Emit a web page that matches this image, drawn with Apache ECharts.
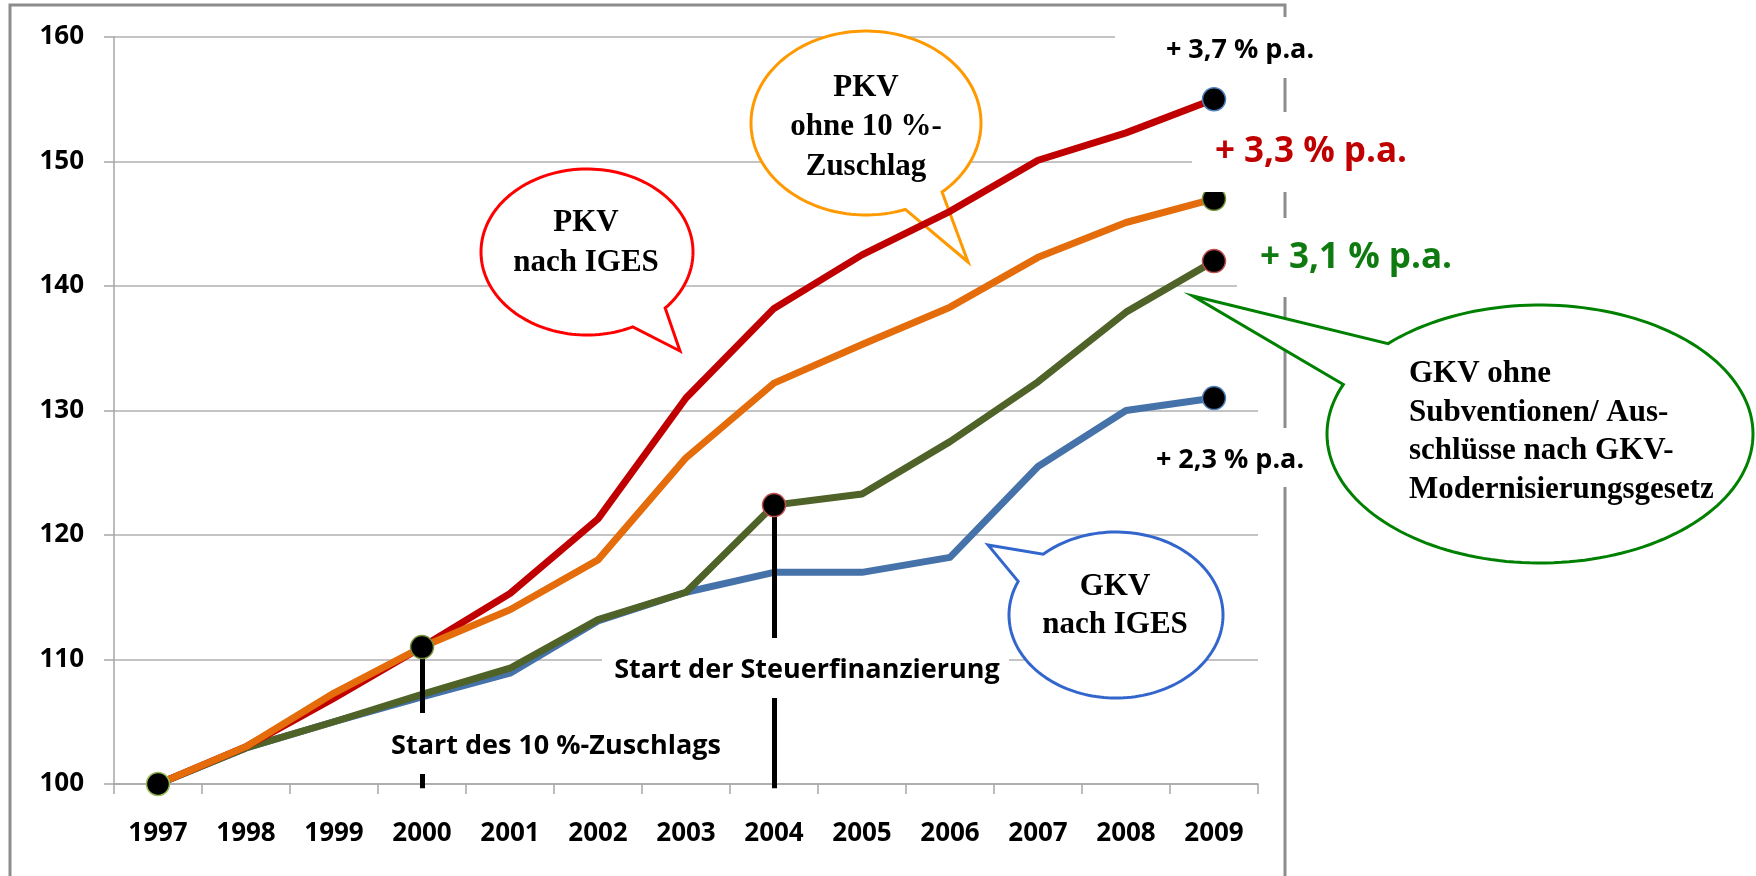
<!DOCTYPE html>
<html>
<head>
<meta charset="utf-8">
<script src="https://cdn.jsdelivr.net/npm/echarts@6/dist/echarts.min.js"></script>
<style>
  html, body { margin: 0; padding: 0; background: #fff; }
  #chart { width: 1756px; height: 876px; }
</style>
</head>
<body>
<div id="chart"></div>
<script>
// Jahre (x-Achse)
var years = ['1997', '1998', '1999', '2000', '2001', '2002', '2003', '2004', '2005', '2006', '2007', '2008', '2009'];

// Indexwerte 1997 = 100
var pkvIges = [100, 103, 106.9, 111, 115.3, 121.3, 131, 138.2, 142.5, 146, 150.1, 152.3, 155];
var pkvOhneZuschlag = [100, 103, 107.3, 111, 114, 118, 126.2, 132.2, 135.3, 138.3, 142.3, 145.1, 147];
var gkvOhneSubv = [100, 102.9, 105, 107.2, 109.3, 113.2, 115.4, 122.4, 123.3, 127.5, 132.3, 137.9, 142];
var gkvIges = [100, 102.9, 105, 107, 108.9, 113.1, 115.4, 117, 117, 118.2, 125.5, 130, 131];

var yMin = 100, yMax = 160, yStep = 10;

var sans = '"Open Sans", "Noto Sans", sans-serif';
var serif = '"Liberation Serif", "DejaVu Serif", serif';

var chart = echarts.init(document.getElementById('chart'));

/*
 * Sprechblase: Ellipse + Spitze als ein Polygon
 * a1/a2 = Winkel (Grad) der Ansatzpunkte auf der Ellipse
 */
function bubble(cx, cy, rx, ry, a1, a2, tip, color) {
	var pts = [tip];
	var steps = 160;
	for (var i = 0; i <= steps; i++) {
		var a = (a2 + (a1 + 360 - a2) * i / steps) * Math.PI / 180;
		pts.push([cx + rx * Math.cos(a), cy + ry * Math.sin(a)]);
	}
	return {
		type: 'polygon',
		z: 1,
		shape: { points: pts },
		style: { fill: '#fff', stroke: color, lineWidth: 3, lineJoin: 'miter' }
	};
}

function label(x, y, text, size, family, color, align, lineHeight) {
	return {
		type: 'text',
		z: 11,
		x: x,
		y: y,
		style: {
			text: text,
			fill: color,
			fontSize: size,
			fontFamily: family,
			fontWeight: 'bold',
			lineHeight: lineHeight || size,
			align: align || 'center',
			textAlign: align || 'center',
			verticalAlign: 'middle',
			textVerticalAlign: 'middle'
		}
	};
}

function whiteBox(x1, y1, x2, y2) {
	return {
		type: 'rect',
		z: 10,
		shape: { x: x1, y: y1, width: x2 - x1, height: y2 - y1 },
		style: { fill: '#fff' }
	};
}

// markierte Punkte (schwarze Kreise)
var dots = [
	{ value: [0, pkvOhneZuschlag[0]], itemStyle: { borderColor: '#9bbb59' } },
	{ value: [3, pkvOhneZuschlag[3]], itemStyle: { borderColor: '#77933c' } },
	{ value: [7, gkvOhneSubv[7]], itemStyle: { borderColor: '#c0504d' } },
	{ value: [12, pkvIges[12]], itemStyle: { borderColor: '#4f81bd' } },
	{ value: [12, pkvOhneZuschlag[12]], itemStyle: { borderColor: '#77933c' } },
	{ value: [12, gkvOhneSubv[12]], itemStyle: { borderColor: '#c0504d' } },
	{ value: [12, gkvIges[12]], itemStyle: { borderColor: '#4f81bd' } }
];

// senkrechte Markierungen (Start Zuschlag 2000, Start Steuerfinanzierung 2004)
var markers = [
	{ coords: [[3, pkvOhneZuschlag[3]], [3, yMin - 0.35]] },
	{ coords: [[7, gkvOhneSubv[7]], [7, yMin - 0.35]] }
];

function lineSeries(name, data, color) {
	return {
		name: name,
		type: 'line',
		data: data,
		symbol: 'none',
		z: 2,
		lineStyle: { color: color, width: 7, join: 'round' }
	};
}

var axisColor = '#a6a6a6';

var option = {
	backgroundColor: '#fff',
	animation: false,
	grid: { left: 114, right: 498, top: 37, bottom: 92 },
	xAxis: {
		type: 'category',
		data: years,
		boundaryGap: true,
		axisLine: { show: true, lineStyle: { color: axisColor, width: 1.5 } },
		axisTick: { show: true, length: 10, alignWithLabel: false, lineStyle: { color: axisColor, width: 1.5 } },
		axisLabel: { interval: 0, margin: 37, color: '#000', fontSize: 26, fontWeight: 'bold', fontFamily: sans },
		splitLine: { show: false }
	},
	yAxis: {
		type: 'value',
		min: yMin,
		max: yMax,
		interval: yStep,
		axisLine: { show: true, lineStyle: { color: axisColor, width: 1.5 } },
		axisTick: { show: true, length: 10, lineStyle: { color: axisColor, width: 1.5 } },
		axisLabel: { margin: 30, color: '#000', fontSize: 26, fontWeight: 'bold', fontFamily: sans },
		splitLine: { show: true, lineStyle: { color: '#b0b0b0', width: 1.5 } }
	},
	series: [
		lineSeries('GKV nach IGES', gkvIges, '#4672aa'),
		lineSeries('GKV ohne Subventionen', gkvOhneSubv, '#4f6228'),
		lineSeries('PKV nach IGES', pkvIges, '#c00000'),
		lineSeries('PKV ohne 10 %-Zuschlag', pkvOhneZuschlag, '#e46c0a'),
		{
			type: 'lines',
			coordinateSystem: 'cartesian2d',
			clip: false,
			z: 4,
			data: markers,
			lineStyle: { color: '#000', width: 5, opacity: 1 }
		},
		{
			type: 'scatter',
			z: 5,
			symbolSize: 23,
			data: dots,
			itemStyle: { color: '#000', borderWidth: 1.5, opacity: 1 }
		}
	],
	graphic: [
		// Rahmen
		{
			type: 'polyline',
			z: 1,
			shape: { points: [[10, 890], [10, 5], [1285, 5], [1285, 890]] },
			style: { stroke: '#8c8c8c', lineWidth: 3, fill: null }
		},
		// Sprechblasen
		bubble(587, 252, 106, 83, 42.5, 64.4, [680, 351], '#ff0000'),
		bubble(866, 123, 115, 92, 48.6, 70, [968, 262], '#ff9900'),
		bubble(1116, 615, 107, 83, 203.9, 227.1, [988, 545], '#3366cc'),
		bubble(1540, 434, 213, 129, 202.6, 224.5, [1193, 296], '#008000'),
		label(586, 243, 'PKV\nnach IGES', 31, serif, '#000', 'center', 40),
		label(866, 127, 'PKV\nohne 10 %-\nZuschlag', 31, serif, '#000', 'center', 39.5),
		label(1115, 606, 'GKV\nnach IGES', 31, serif, '#000', 'center', 38),
		label(1409, 432, 'GKV ohne\nSubventionen/ Aus-\nschlüsse nach GKV-\nModernisierungsgesetz', 31, serif, '#000', 'left', 38.5),
		// Wachstumsraten
		whiteBox(1115, 17, 1335, 78),
		label(1240, 50, '+ 3,7 % p.a.', 27, sans, '#000'),
		whiteBox(1192, 112, 1430, 192),
		label(1311, 152, '+ 3,3 % p.a.', 35, sans, '#c00000'),
		whiteBox(1237, 218, 1475, 297),
		label(1356, 258, '+ 3,1 % p.a.', 35, sans, '#0f7a0f'),
		whiteBox(1135, 428, 1325, 487),
		label(1230, 460, '+ 2,3 % p.a.', 27, sans, '#000'),
		// Ereignisse
		whiteBox(385, 713, 730, 774),
		label(556, 746, 'Start des 10 %-Zuschlags', 27, sans, '#000'),
		whiteBox(602, 638, 1009, 698),
		label(807, 670, 'Start der Steuerfinanzierung', 27, sans, '#000')
	]
};

chart.setOption(option);
</script>
</body>
</html>
